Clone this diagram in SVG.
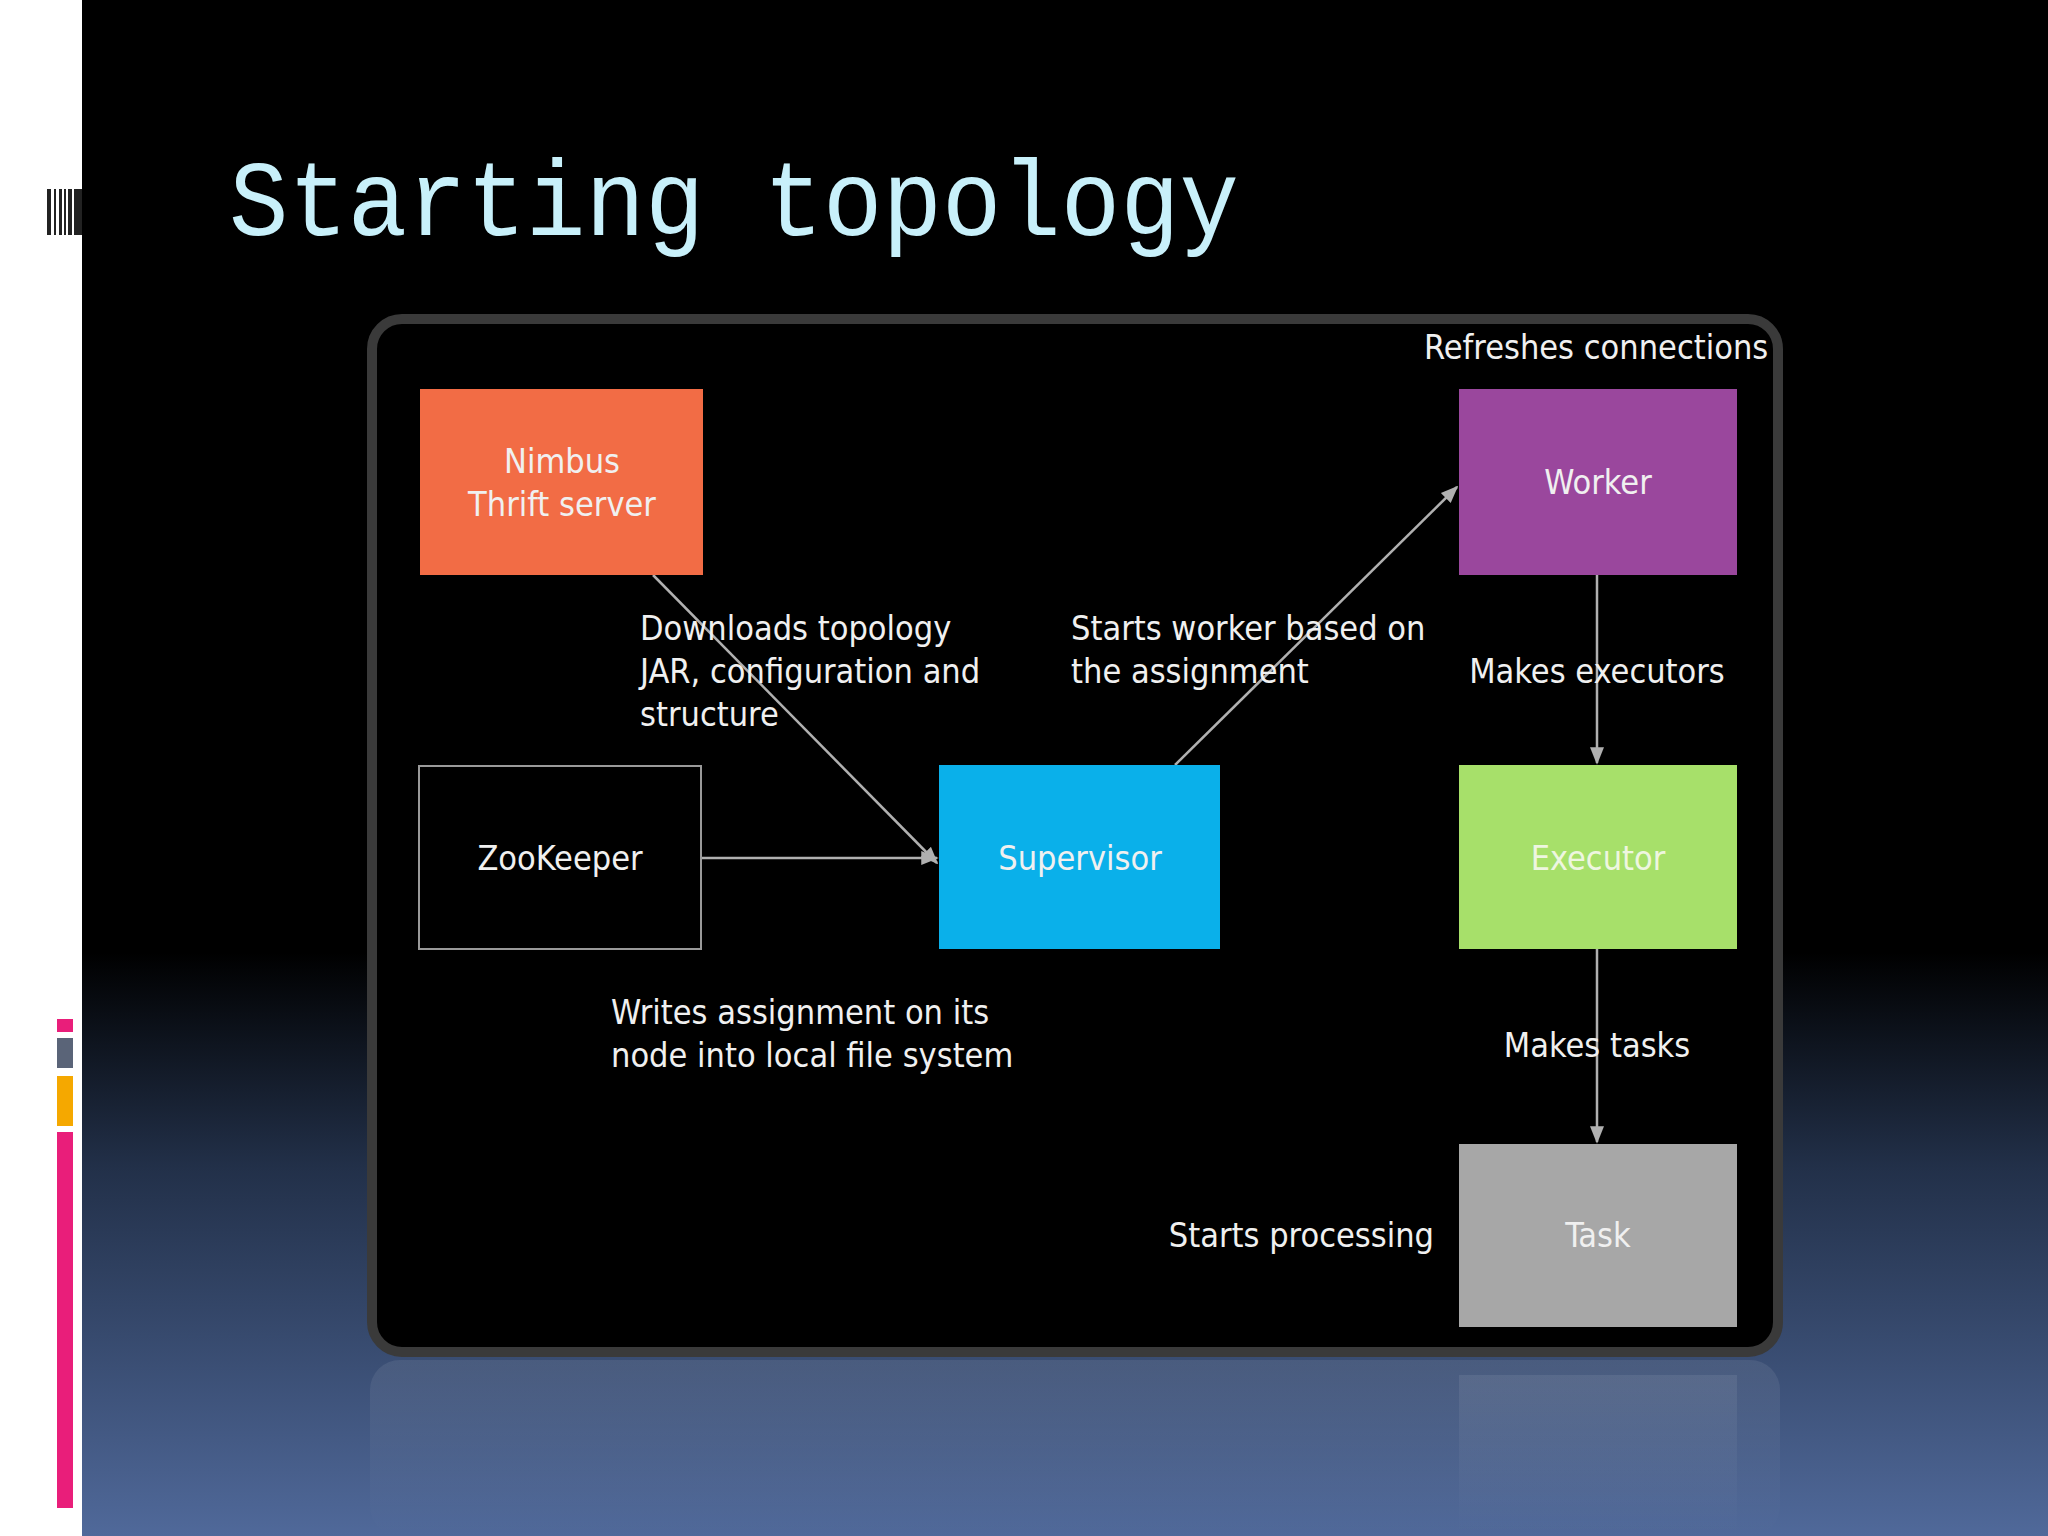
<svg xmlns="http://www.w3.org/2000/svg" width="2048" height="1536" viewBox="0 0 2048 1536">
<defs>
<linearGradient id="bg" x1="0" y1="0" x2="0" y2="1">
<stop offset="0" stop-color="#000"/><stop offset="0.62" stop-color="#000"/><stop offset="0.76" stop-color="#223049"/><stop offset="1" stop-color="#50699a"/>
</linearGradient>
<linearGradient id="refl" x1="0" y1="0" x2="0" y2="1">
<stop offset="0" stop-color="#fff" stop-opacity="0.08"/><stop offset="1" stop-color="#fff" stop-opacity="0"/>
</linearGradient>
<marker id="ah" viewBox="0 0 10 10" refX="9" refY="5" markerWidth="7" markerHeight="7" orient="auto"><path d="M0,1 L10,5 L0,9 z" fill="#b0b0b0"/></marker>
</defs>
<style>
.t{font-family:"DejaVu Sans Condensed","Liberation Sans Narrow","Liberation Sans",sans-serif;font-size:34px;fill:#f0f0f0}
.c{text-anchor:middle}
.ln{stroke:#b0b0b0;stroke-width:2.5;fill:none;marker-end:url(#ah)}
</style>
<rect width="2048" height="1536" fill="url(#bg)"/>
<rect width="82" height="1536" fill="#fff"/>
<g fill="#222"><rect x="47" y="189" width="4" height="46"/><rect x="54" y="189" width="2" height="46"/><rect x="59" y="189" width="3" height="46"/><rect x="64" y="189" width="2" height="46"/><rect x="68" y="189" width="4" height="46"/><rect x="74" y="189" width="8" height="46"/></g>
<rect x="57" y="1019" width="16" height="13" fill="#e91e7a"/>
<rect x="57" y="1038" width="16" height="30" fill="#5a6478"/>
<rect x="57" y="1076" width="16" height="50" fill="#f5a800"/>
<rect x="57" y="1132" width="16" height="376" fill="#e91e7a"/>
<text x="229" y="235" font-family="'Liberation Mono','DejaVu Sans Mono',monospace" font-size="108" fill="#c8f0fa" textLength="1010" lengthAdjust="spacingAndGlyphs">Starting topology</text>
<rect x="370" y="1360" width="1410" height="176" rx="30" fill="url(#refl)"/>
<rect x="1459" y="1375" width="278" height="161" fill="url(#refl)"/>
<rect x="372" y="319" width="1406" height="1033" rx="30" fill="#000" stroke="#3a3a3a" stroke-width="10"/>
<g id="connectors">
<line class="ln" x1="653" y1="575" x2="937" y2="863"/>
<line class="ln" x1="701" y1="858" x2="937" y2="858"/>
<line class="ln" x1="1175" y1="765" x2="1457" y2="487"/>
<line class="ln" x1="1597" y1="575" x2="1597" y2="763"/>
<line class="ln" x1="1597" y1="949" x2="1597" y2="1142"/>
</g>
<g id="nimbus"><rect x="420" y="389" width="283" height="186" fill="#f26c45"/><text class="t c" x="562" y="473">Nimbus</text><text class="t c" x="562" y="516">Thrift server</text></g>
<g id="worker"><rect x="1459" y="389" width="278" height="186" fill="#9a479d"/><text class="t c" x="1598" y="494">Worker</text></g>
<g id="zookeeper"><rect x="419" y="766" width="282" height="183" fill="#000" stroke="#9a9a9a" stroke-width="2"/><text class="t c" x="560" y="870">ZooKeeper</text></g>
<g id="supervisor"><rect x="939" y="765" width="281" height="184" fill="#0ab0ea"/><text class="t c" x="1080" y="870">Supervisor</text></g>
<g id="executor"><rect x="1459" y="765" width="278" height="184" fill="#a7e06a"/><text class="t c" x="1598" y="870" style="fill:#eef6e0">Executor</text></g>
<g id="task"><rect x="1459" y="1144" width="278" height="183" fill="#a7a7a7"/><text class="t c" x="1598" y="1247">Task</text></g>
<g id="labels">
<svg x="372" y="319" width="1400" height="80" viewBox="372 319 1400 80"><text class="t" x="1424" y="359">Refreshes connections</text></svg>
<text class="t" x="640" y="640">Downloads topology</text>
<text class="t" x="640" y="683">JAR, configuration and</text>
<text class="t" x="640" y="726">structure</text>
<text class="t" x="1071" y="640">Starts worker based on</text>
<text class="t" x="1071" y="683">the assignment</text>
<text class="t c" x="1597" y="683">Makes executors</text>
<text class="t" x="611" y="1024">Writes assignment on its</text>
<text class="t" x="611" y="1067">node into local file system</text>
<text class="t c" x="1597" y="1057">Makes tasks</text>
<text class="t" x="1434" y="1247" text-anchor="end">Starts processing</text>
</g>
</svg>
